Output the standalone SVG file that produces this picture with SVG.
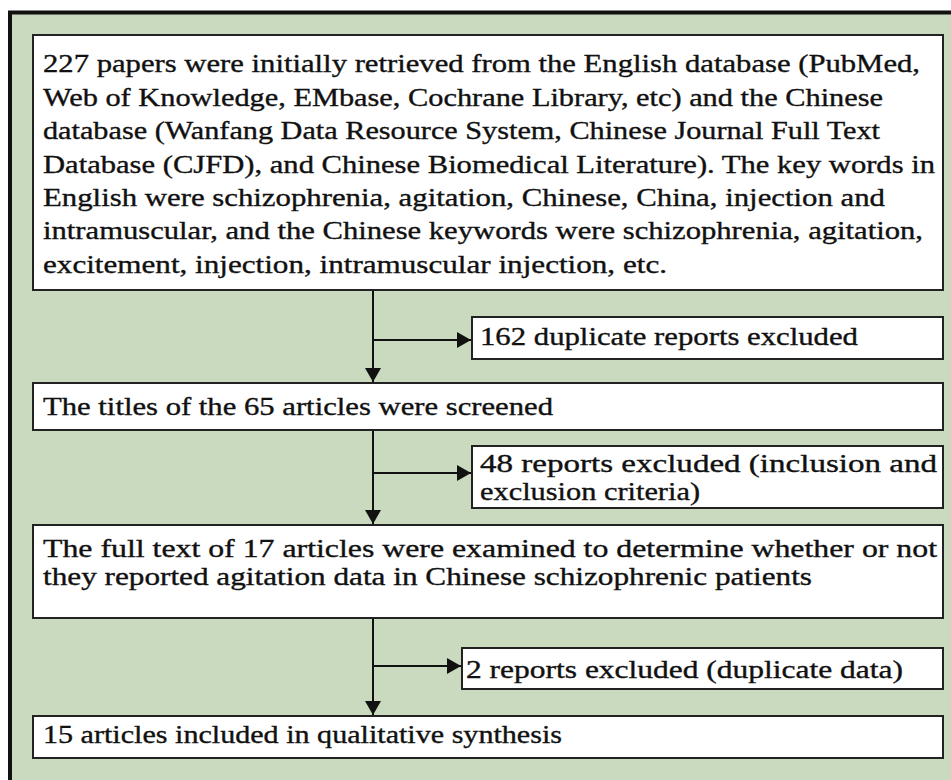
<svg xmlns="http://www.w3.org/2000/svg" width="951" height="780" viewBox="0 0 951 780">
<defs>
<style>
.bg{fill:#ffffff}
.frame{fill:#c9dabe;stroke:#111;stroke-width:4}
.box{fill:#ffffff;stroke:#222;stroke-width:2}
.t{font-family:"Liberation Serif","DejaVu Serif",serif;font-size:25px;fill:#111;stroke:#111;stroke-width:0.35}
.c{stroke:#111;stroke-width:2;fill:none}
</style>
<marker id="ah" viewBox="0 0 14 16" refX="14" refY="8" markerWidth="14" markerHeight="16" markerUnits="userSpaceOnUse" orient="auto">
<path d="M0,0 L14,8 L0,16 Z" fill="#111"/>
</marker>
</defs>
<rect class="bg" x="0" y="0" width="951" height="780"/>
<rect class="frame" x="10" y="12.5" width="960" height="790"/>

<g id="connectors">
<line class="c" x1="373" y1="290" x2="373" y2="382" marker-end="url(#ah)"/>
<line class="c" x1="373" y1="340" x2="471" y2="340" marker-end="url(#ah)"/>
<line class="c" x1="373" y1="430" x2="373" y2="524" marker-end="url(#ah)"/>
<line class="c" x1="373" y1="473" x2="471" y2="473" marker-end="url(#ah)"/>
<line class="c" x1="373" y1="618" x2="373" y2="715" marker-end="url(#ah)"/>
<line class="c" x1="373" y1="666" x2="461" y2="666" marker-end="url(#ah)"/>
</g>

<g id="n1">
<rect class="box" x="33" y="35" width="910" height="255"/>
<text class="t" x="43" y="72" textLength="877" lengthAdjust="spacingAndGlyphs">227 papers were initially retrieved from the English database (PubMed,</text>
<text class="t" x="43" y="106" textLength="840" lengthAdjust="spacingAndGlyphs">Web of Knowledge, EMbase, Cochrane Library, etc) and the Chinese</text>
<text class="t" x="43" y="139" textLength="837" lengthAdjust="spacingAndGlyphs">database (Wanfang Data Resource System, Chinese Journal Full Text</text>
<text class="t" x="43" y="173" textLength="892" lengthAdjust="spacingAndGlyphs">Database (CJFD), and Chinese Biomedical Literature). The key words in</text>
<text class="t" x="43" y="206" textLength="842" lengthAdjust="spacingAndGlyphs">English were schizophrenia, agitation, Chinese, China, injection and</text>
<text class="t" x="43" y="239" textLength="880" lengthAdjust="spacingAndGlyphs">intramuscular, and the Chinese keywords were schizophrenia, agitation,</text>
<text class="t" x="43" y="273" textLength="624" lengthAdjust="spacingAndGlyphs">excitement, injection, intramuscular injection, etc.</text>
</g>

<g id="e1">
<rect class="box" x="472" y="317" width="471" height="42"/>
<text class="t" x="480" y="345" textLength="378" lengthAdjust="spacingAndGlyphs">162 duplicate reports excluded</text>
</g>

<g id="n2">
<rect class="box" x="33" y="383" width="910" height="47"/>
<text class="t" x="43" y="415" textLength="510" lengthAdjust="spacingAndGlyphs">The titles of the 65 articles were screened</text>
</g>

<g id="e2">
<rect class="box" x="472" y="446" width="471" height="62"/>
<text class="t" x="480" y="472" textLength="457" lengthAdjust="spacingAndGlyphs">48 reports excluded (inclusion and</text>
<text class="t" x="480" y="500" textLength="220" lengthAdjust="spacingAndGlyphs">exclusion criteria)</text>
</g>

<g id="n3">
<rect class="box" x="33" y="525" width="910" height="93"/>
<text class="t" x="43" y="557" textLength="894" lengthAdjust="spacingAndGlyphs">The full text of 17 articles were examined to determine whether or not</text>
<text class="t" x="43" y="585" textLength="769" lengthAdjust="spacingAndGlyphs">they reported agitation data in Chinese schizophrenic patients</text>
</g>

<g id="e3">
<rect class="box" x="462" y="648" width="481" height="41"/>
<text class="t" x="466" y="678" textLength="437" lengthAdjust="spacingAndGlyphs">2 reports excluded (duplicate data)</text>
</g>

<g id="n4">
<rect class="box" x="33" y="716" width="910" height="42"/>
<text class="t" x="43" y="743" textLength="519" lengthAdjust="spacingAndGlyphs">15 articles included in qualitative synthesis</text>
</g>
</svg>
